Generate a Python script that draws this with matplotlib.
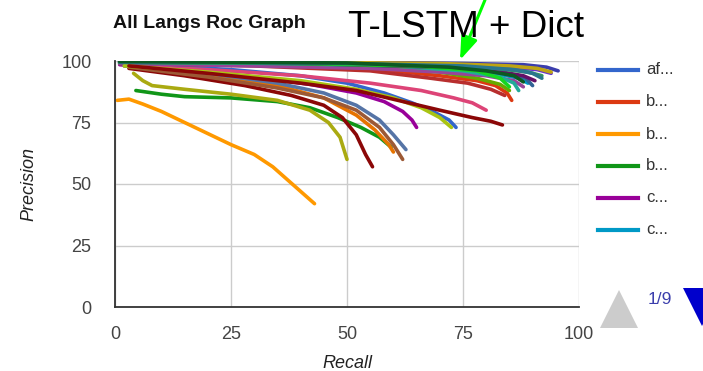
import matplotlib
matplotlib.use("Agg")
import matplotlib.pyplot as plt
from matplotlib.patches import Polygon

plt.rcParams['font.family'] = ['Liberation Sans', 'DejaVu Sans']

# ---- data -------------------------------------------------------------
legend_labels = ["af...", "b...", "b...", "b...", "c...", "c..."]

series_colors = [
    "#3366cc", "#dc3912", "#ff9900", "#109618", "#990099", "#0099c6",
    "#dd4477", "#66aa00", "#b82e2e", "#316395", "#994499", "#22aa99",
    "#aaaa11", "#6633cc", "#e67300", "#8b0707", "#651067", "#329262",
    "#5574a6", "#3b3eac", "#9c5935", "#16d620", "#a9c413", "#8b0707",
    "#bea413", "#2a778d", "#0c5922",
]

recall = [
    [1, 10, 25, 40, 50, 58, 64, 69, 72, 73.5],
    [2, 15, 30, 45, 60, 70, 78, 82, 84.5, 85.5],
    [0.5, 3, 6, 10, 15, 20, 25, 30, 34, 37, 40, 43],
    [4.5, 10, 15, 25, 35, 42, 48, 53, 57, 59.5],
    [1, 15, 30, 42, 52, 58, 62, 64, 65],
    [1, 30, 55, 72, 82, 87, 89],
    [2, 20, 40, 55, 66, 73, 77, 80],
    [1, 30, 55, 70, 78, 83, 85],
    [2, 30, 55, 68, 76, 81, 84],
    [1, 30, 60, 75, 84, 88.5, 90],
    [1, 30, 55, 70, 80, 86, 88],
    [1, 35, 60, 75, 83, 86, 87],
    [4, 6, 8, 15, 25, 35, 42, 46, 48.5, 50],
    [1, 40, 70, 85, 91, 94],
    [3, 20, 35, 45, 52, 56, 59, 60],
    [3, 15, 28, 38, 45, 49, 52, 54, 55.5],
    [1, 40, 70, 82, 88, 90.5],
    [1, 40, 70, 82, 89, 92],
    [2, 20, 35, 45, 52, 57, 60, 62.7],
    [1, 40, 75, 88, 93, 95.5],
    [3, 20, 35, 45, 52, 57, 60, 62],
    [1, 40, 65, 78, 83, 85],
    [2, 20, 40, 52, 60, 66, 70, 72.5],
    [3, 20, 40, 52, 61, 70, 77, 81, 83.5],
    [1, 40, 70, 85, 91, 94],
    [1, 50, 75, 86, 90, 92],
    [1, 50, 72, 80, 86, 88],
]

precision = [
    [99, 98, 96.5, 94, 91, 87, 83, 79, 76, 73],
    [99.5, 99.5, 99, 98, 96, 94, 92, 90, 87, 84],
    [84, 84.5, 82.5, 79.5, 75, 70.5, 66, 62, 57, 52, 47, 42],
    [88, 86.5, 85.5, 85, 83.5, 81, 77, 73, 69, 65],
    [98.5, 96, 93.5, 90.5, 87, 83.5, 79.5, 76, 73],
    [99.5, 99, 98, 96.5, 95, 93, 91],
    [98, 96.5, 94, 91, 88, 85, 83, 80],
    [99, 98.5, 97.5, 95.5, 93, 90.5, 88],
    [99, 98, 96, 93, 91, 88.5, 86],
    [99.8, 99.5, 98.5, 97, 95, 93, 90],
    [99, 98, 97, 95.5, 94, 92, 89.5],
    [99.5, 99, 98, 96, 93.5, 91, 88],
    [95, 92, 90, 88.5, 86.5, 84, 80, 75, 69, 60],
    [99.8, 99.5, 98.5, 97.5, 96.5, 95],
    [98, 94, 90, 85, 78, 72, 66, 63],
    [97, 94, 90, 86, 82, 77, 70, 62, 57],
    [99.5, 99, 97.5, 96, 94, 92],
    [99.8, 99.5, 98.5, 97, 95.5, 94],
    [98, 95, 91, 87, 82, 76, 70, 64],
    [100, 99.8, 99, 98.5, 97.5, 96],
    [97.5, 93.5, 89, 85, 80, 73, 66, 60],
    [99.5, 99, 98, 96, 93, 89.5],
    [98, 95.5, 92, 88.5, 85, 81, 77, 73],
    [98, 95, 91, 88, 84, 80, 77, 75.5, 74],
    [99.8, 99.5, 99, 98, 97, 95.5],
    [99.5, 99, 98, 96.5, 95, 93],
    [99.8, 99.2, 97.5, 96, 94, 91.5],
]

x_ticks = [0, 25, 50, 75, 100]
y_ticks = [0, 25, 50, 75, 100]

# ---- figure -----------------------------------------------------------
W, H = 703, 371
fig = plt.figure(figsize=(W / 100, H / 100), dpi=100)
ax = fig.add_axes([115 / W, 64 / H, 464 / W, 246 / H])

for xs, ys, c in zip(recall, precision, series_colors):
    ax.plot(xs, ys, color=c, lw=2.6, solid_capstyle="round",
            solid_joinstyle="round", zorder=3)

ax.set_xlim(0, 100)
ax.set_ylim(0, 100)
ax.set_xticks(x_ticks)
ax.set_yticks(y_ticks)
ax.tick_params(length=0, labelsize=13, labelcolor="#444444")
ax.tick_params(axis="y", pad=17)
ax.tick_params(axis="x", pad=14)
ax.grid(True, color="#cccccc", lw=1.0, zorder=0)
for s in ("top", "right"):
    ax.spines[s].set_visible(False)
for s in ("left", "bottom"):
    ax.spines[s].set_color("#333333")
    ax.spines[s].set_linewidth(1.3)
    ax.spines[s].set_zorder(4)

ax.set_xlabel("Recall", fontsize=13, style="italic", color="#222222", labelpad=8)
ax.set_ylabel("Precision", fontsize=13, style="italic", color="#222222", labelpad=17)

# titles
fig.text(113 / W, 1 - 24 / H, "All Langs Roc Graph", fontsize=14, fontweight="bold",
         color="#111111", ha="left", va="center")
fig.text(348 / W, 1 - 37 / H, "T-LSTM + Dict", fontsize=26.5, color="black",
         ha="left", va="baseline")

# green pointer arrow
ax.annotate("", xy=(460 / W, 1 - 60 / H), xycoords="figure fraction",
            xytext=(485 / W, 1.0), textcoords="figure fraction",
            arrowprops=dict(arrowstyle="-|>,head_length=1.4,head_width=0.5",
                            color="#00ff00", lw=2.2, shrinkA=0, shrinkB=0),
            annotation_clip=False)

# legend (first page)
for i, (lab, c) in enumerate(zip(legend_labels, series_colors)):
    y = 1 - (70 + 32 * i) / H
    fig.add_artist(plt.Line2D([598 / W, 638 / W], [y, y], color=c, lw=3,
                              transform=fig.transFigure))
    fig.text(646 / W, y, lab, fontsize=12, color="#333333", ha="left", va="center")

# pager
fig.add_artist(Polygon([[600 / W, 1 - 328 / H], [638 / W, 1 - 328 / H],
                        [619 / W, 1 - 290 / H]], closed=True,
                       facecolor="#cccccc", edgecolor="none",
                       transform=fig.transFigure))
fig.text(648 / W, 1 - 300 / H, "1/9", fontsize=12.5, color="#3b3eac",
         ha="left", va="center")
fig.add_artist(Polygon([[683 / W, 1 - 288 / H], [721 / W, 1 - 288 / H],
                        [702 / W, 1 - 326 / H]], closed=True,
                       facecolor="#0000cc", edgecolor="none",
                       transform=fig.transFigure))

fig.savefig("out.png", dpi=100)
